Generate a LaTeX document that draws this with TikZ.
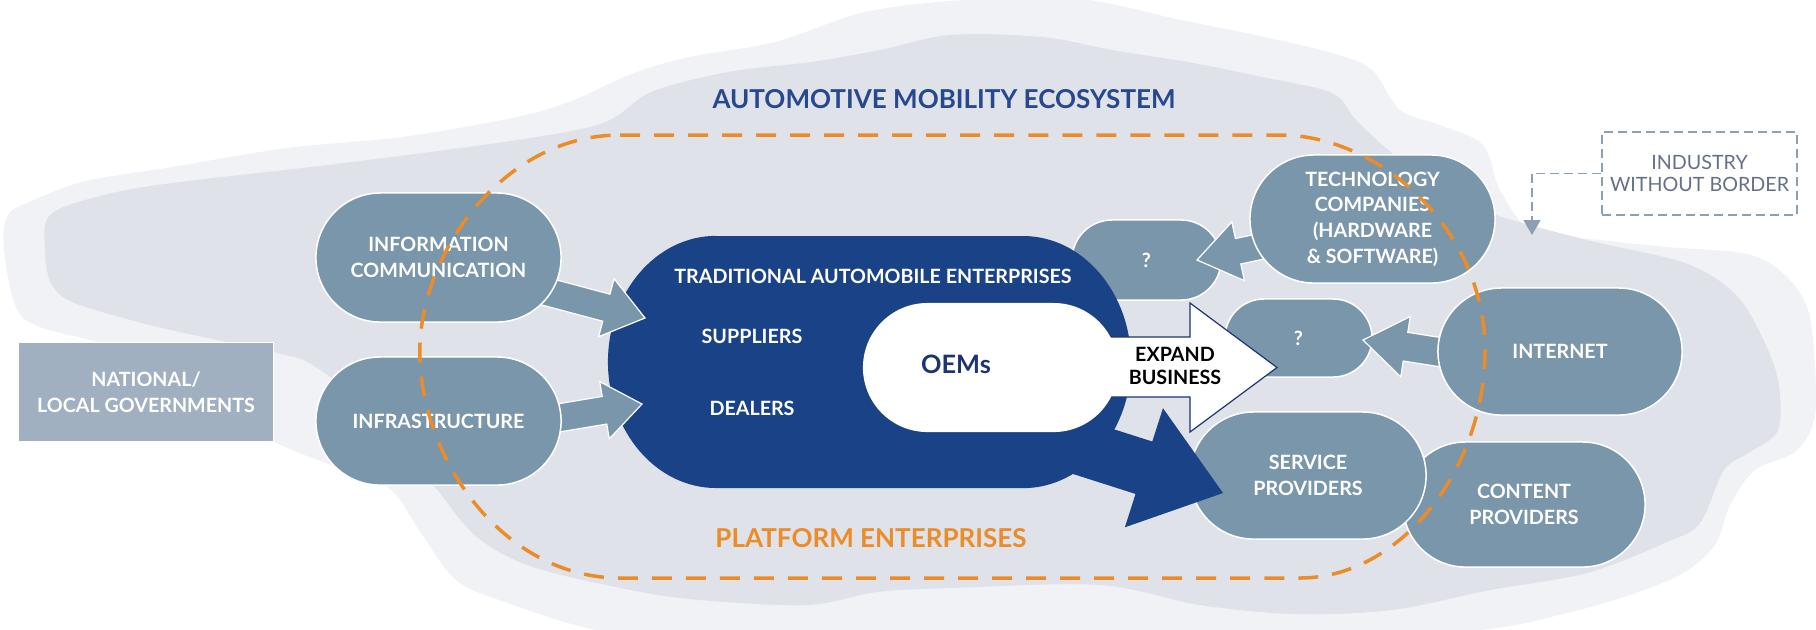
\documentclass[tikz,border=0pt]{standalone}
\usepackage{fontspec}
\setmainfont{Lato}
\usetikzlibrary{shapes.misc,calc,arrows.meta}
\definecolor{outerC}{RGB}{241,242,246}
\definecolor{innerC}{RGB}{223,226,233}
\definecolor{pillC}{RGB}{122,150,170}
\definecolor{natC}{RGB}{160,176,192}
\definecolor{blueC}{RGB}{26,66,134}
\definecolor{orgC}{RGB}{236,140,40}
\definecolor{titC}{RGB}{40,72,142}
\definecolor{indC}{RGB}{140,160,178}
\definecolor{indT}{RGB}{100,112,135}
\definecolor{oemT}{RGB}{28,52,112}
\newcommand\pfont{\bfseries\fontsize{5.6}{7.3}\selectfont}
\newcommand\blockarr[6]{%
  \coordinate (#1#2b) at ($(#2)!#5!(#1)$);
  \path[#6] ($(#1)!#3!90:(#2)$) -- ($(#1#2b)!#3!90:(#2)$) -- ($(#1#2b)!#4!90:(#2)$) -- (#2)
     -- ($(#1#2b)!#4!-90:(#2)$) -- ($(#1#2b)!#3!-90:(#2)$) -- ($(#1)!#3!-90:(#2)$) -- cycle;
}
\tikzset{
  pill/.style={rounded rectangle, fill=pillC, draw=white, line width=0.015cm, inner sep=0pt,
    text=white, font=\pfont, align=center},
  grayarrow/.style={fill=pillC, draw=white, line width=0.012cm},
  whitetext/.style={text=white, font=\pfont, align=center},
}
\begin{document}
\begin{tikzpicture}[x=0.01cm,y=-0.01cm]
\useasboundingbox (0,0) rectangle (1816,629);
% background blobs
\fill[outerC] plot[smooth cycle, tension=0.55] coordinates {
 (4,250) (8,215) (34,200) (86,181) (172,167) (287,148) (402,137) (517,117) (574,100) (631,74)
 (689,57) (775,42) (857,14) (927,3) (1010,-2) (1089,0) (1181,20) (1251,34) (1332,53) (1372,70)
 (1400,110) (1440,125) (1483,145) (1500,190) (1533,232) (1600,240) (1667,247) (1747,254)
 (1785,275) (1808,310) (1815,367) (1814,420) (1795,452) (1755,470) (1730,505) (1715,545)
 (1683,573) (1633,594) (1567,613) (1480,630) (1300,640) (1000,640) (700,640) (596,630)
 (505,602) (456,580) (421,533) (389,488) (336,467) (277,443) (200,400) (120,350) (40,327) (16,307)};
\fill[innerC] plot[smooth cycle, tension=0.55] coordinates {
 (45,250) (50,215) (100,196) (172,183) (344,163) (517,140) (603,123) (645,95) (683,82) (740,70)
 (811,62) (880,50) (950,35) (1042,37) (1112,50) (1193,63) (1262,77) (1332,93) (1356,120)
 (1392,153) (1441,187) (1490,213) (1587,240) (1685,263) (1734,293) (1760,333) (1778,380)
 (1778,430) (1750,452) (1724,470) (1700,523) (1667,542) (1587,573) (1490,590) (1392,610)
 (1294,614) (1200,605) (1100,585) (950,588) (877,592) (807,605) (700,600) (631,590) (533,567)
 (477,537) (435,487) (380,420) (316,367) (277,353) (158,327) (75,303) (51,283)};
% left box
\node[rectangle, fill=natC, draw=white, line width=0.01cm, minimum width=2.54cm, minimum height=0.98cm,
  inner sep=0pt, whitetext] (natl) at (146,392) {NATIONAL/\\LOCAL GOVERNMENTS};
% right pills below the main shape
\node[pill, minimum width=1.49cm, minimum height=0.80cm] (q1) at (1146.5,260) {?};
\node[pill, minimum width=1.47cm, minimum height=0.78cm] (q2) at (1298.5,338) {?};
\node[pill, minimum width=2.42cm, minimum height=1.25cm] (content) at (1524,504.5) {CONTENT\\PROVIDERS};
\node[pill, minimum width=2.36cm, minimum height=1.27cm] (service) at (1308,475.5) {SERVICE\\PROVIDERS};
% traditional enterprises shape with its arrow
\fill[blueC] (716,236) -- (1023,236) arc[start angle=90,end angle=-90,x radius=1.08cm,y radius=1.26cm]
  -- (716,488) arc[start angle=270,end angle=90,x radius=1.08cm,y radius=1.26cm] -- cycle;
\coordinate (blueS) at (1029,431);
\coordinate (blueT) at (1223,493);
\blockarr{blueS}{blueT}{0.275cm}{0.625cm}{0.83cm}{fill=blueC}
% expand business arrow and OEM pill
\filldraw[fill=white, draw=oemT, line width=0.012cm] (1095,337) -- (1190,337) -- (1190,303) -- (1277,367.5)
  -- (1190,432) -- (1190,397) -- (1095,397) -- cycle;
\node[rounded rectangle, fill=white, inner sep=0pt, minimum width=2.55cm, minimum height=1.29cm] (oem) at (990.5,367.5) {};
% gray arrows
\coordinate (infoS) at (540,290);  \coordinate (infoT) at (645,318);
\coordinate (infraS) at (540,421); \coordinate (infraT) at (642,404);
\coordinate (techS) at (1272,244); \coordinate (techT) at (1197,260);
\coordinate (netS) at (1452,354);  \coordinate (netT) at (1363,340);
\blockarr{infoS}{infoT}{0.14cm}{0.30cm}{0.40cm}{grayarrow}
\blockarr{infraS}{infraT}{0.14cm}{0.29cm}{0.38cm}{grayarrow}
\blockarr{techS}{techT}{0.13cm}{0.30cm}{0.42cm}{grayarrow}
\blockarr{netS}{netT}{0.145cm}{0.305cm}{0.43cm}{grayarrow}
% source pills
\node[pill, minimum width=2.45cm, minimum height=1.29cm] (info) at (438.5,257.5) {INFORMATION\\COMMUNICATION};
\node[pill, minimum width=2.45cm, minimum height=1.28cm] (infra) at (438.5,421) {INFRASTRUCTURE};
\node[pill, minimum width=2.45cm, minimum height=1.28cm] (tech) at (1372.5,219) {TECHNOLOGY\\COMPANIES\\(HARDWARE\\\& SOFTWARE)};
\node[pill, minimum width=2.44cm, minimum height=1.27cm] (internet) at (1560,351.5) {INTERNET};
% texts in main shape
\node[whitetext] (trad) at (873,276) {TRADITIONAL AUTOMOBILE ENTERPRISES};
\node[whitetext] (sup) at (752,336) {SUPPLIERS};
\node[whitetext] (deal) at (752,408) {DEALERS};
\node[text=oemT, font=\bfseries\fontsize{7.2}{8}\selectfont] (oemtext) at (956,364) {OEMs};
\node[text=black, font=\bfseries\fontsize{5.6}{6.3}\selectfont, align=center] (expand) at (1175,366) {EXPAND\\BUSINESS};
% titles
\node[text=titC, font=\bfseries\fontsize{7.4}{9}\selectfont] (title) at (944,99) {AUTOMOTIVE MOBILITY ECOSYSTEM};
\node[text=orgC, font=\bfseries\fontsize{7.4}{9}\selectfont] (platform) at (871,538) {PLATFORM ENTERPRISES};
% platform boundary
\draw[orgC, line width=0.035cm, dash pattern=on 0.2cm off 0.14cm]
  (620,135) -- (1280,135) .. controls (1380,135) and (1485,230) .. (1485,350)
  .. controls (1485,470) and (1400,578) .. (1300,578) -- (620,578)
  .. controls (510,578) and (425,470) .. (420,360)
  .. controls (415,260) and (500,135) .. (620,135) -- cycle;
% industry without border
\node[rectangle, draw=indC, line width=0.015cm, dash pattern=on 0.09cm off 0.05cm,
  minimum width=1.95cm, minimum height=0.83cm, inner sep=0pt, text=indT,
  font=\fontsize{5.6}{6.5}\selectfont, align=center] (industry) at (1699.5,173.5) {INDUSTRY\\WITHOUT BORDER};
\coordinate (indtip) at (1532,235);
\draw[indC, line width=0.015cm, dash pattern=on 0.09cm off 0.05cm, -{Triangle[width=0.17cm,length=0.15cm]}]
  (industry.west) -| (indtip);
\end{tikzpicture}
\end{document}
